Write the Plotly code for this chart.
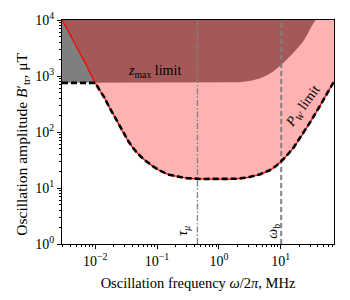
import plotly.graph_objects as go
import numpy as np

# P_W limit curve (MHz, uT)
freq_pw = [0.0029, 0.0035, 0.0045, 0.0055, 0.007, 0.0085, 0.01, 0.012, 0.0141, 0.0165,
           0.0193, 0.023, 0.028, 0.035, 0.0433, 0.055, 0.0668, 0.085, 0.11, 0.15,
           0.205, 0.3, 0.5, 0.76, 1.2, 1.9, 3.0, 4.56, 6.5, 8.5,
           10.5, 12.3, 16.0, 22.9, 30.0, 42.5, 55.0, 73.0]
b_pw = [10000, 6900, 4100, 2700, 1650, 1060, 755, 540, 410, 290,
        214, 150, 100, 66, 48, 36, 30, 24.5, 20.5, 17.5,
        16.2, 15.0, 14.5, 14.4, 14.4, 14.6, 15.5, 17.5, 20.5, 25,
        31, 37, 52, 93, 150, 285, 470, 800]

# z_max limit boundary
freq_z = [0.0029, 0.1, 1.0, 2.16, 3.3, 4.58, 6.0, 7.48, 10.2, 12.5, 15.7, 19.0, 22.9, 27.0, 31.3, 36.7]
b_z = [755, 755, 757, 770, 820, 905, 1030, 1190, 1567, 1950, 2535, 3200, 4090, 5500, 7590, 10000]

tau_mu = 0.45   # MHz
omega_b = 10.2  # MHz
b_top = 10000
b_bottom = 1

xtick_vals = [0.01, 0.1, 1, 10]
xtick_text = ["10<sup>−2</sup>", "10<sup>−1</sup>", "10<sup>0</sup>", "10<sup>1</sup>"]
ytick_vals = [1, 10, 100, 1000, 10000]
ytick_text = ["10<sup>0</sup>", "10<sup>1</sup>", "10<sup>2</sup>", "10<sup>3</sup>", "10<sup>4</sup>"]

FONT = "Liberation Serif"
fig = go.Figure()

# dark z_max region
fig.add_trace(go.Scatter(
    x=freq_z + [freq_z[-1], freq_z[0]],
    y=b_z + [b_top, b_top],
    fill="toself", fillcolor="rgba(0,0,0,0.5)", line=dict(width=0),
    mode="lines", hoverinfo="skip", showlegend=False))

# pink allowed region (above P_W curve)
fig.add_trace(go.Scatter(
    x=freq_pw + [freq_pw[-1], freq_pw[0]],
    y=b_pw + [b_top, b_top],
    fill="toself", fillcolor="rgba(255,0,0,0.3)", line=dict(width=0),
    mode="lines", hoverinfo="skip", showlegend=False))

# vertical reference lines
fig.add_trace(go.Scatter(x=[tau_mu, tau_mu], y=[b_bottom, b_top], mode="lines",
                         line=dict(color="#808080", width=1.3, dash="6px,2px,1.5px,2px"),
                         showlegend=False))
fig.add_trace(go.Scatter(x=[omega_b, omega_b], y=[b_bottom, b_top], mode="lines",
                         line=dict(color="#808080", width=2, dash="5px,3px"),
                         showlegend=False))

# red P_W curve
fig.add_trace(go.Scatter(x=freq_pw, y=b_pw, mode="lines", line_shape="spline",
                         line=dict(color="red", width=1.2, smoothing=0.6), showlegend=False))

# black dashed lower boundary = min(P_W, z_max floor)
floor = np.interp(np.log10(freq_pw), np.log10(freq_z), b_z)
lower = np.minimum(b_pw, floor)
fig.add_trace(go.Scatter(x=freq_pw, y=lower, mode="lines",
                         line=dict(color="black", width=2.6, dash="6px,3px"),
                         showlegend=False))

def px(xp, yp):
    return dict(x=(xp - 62.3) / 272.0, y=(244 - yp) / 224.0, xref="paper", yref="paper",
                xanchor="center", yanchor="middle")

fs = 14
tfs = 14.5
fig.add_annotation(text="<i>z</i><sub>max</sub> limit", showarrow=False,
                   font=dict(family=FONT, size=fs, color="black"), **px(155, 71))
fig.add_annotation(text="<i>P</i><sub><i>W</i></sub> limit", showarrow=False, textangle=-54,
                   font=dict(family=FONT, size=fs, color="black"), **px(304, 107))
fig.add_annotation(text="<i>τ</i><sub><i>μ</i></sub>", showarrow=False, textangle=-90,
                   font=dict(family=FONT, size=fs, color="black"), **px(183, 231))
fig.add_annotation(text="<i>ω</i><sub>b</sub>", showarrow=False, textangle=-90,
                   font=dict(family=FONT, size=fs, color="black"), **px(273, 231))
# y-axis title
fig.add_annotation(text="Oscillation amplitude <i>B</i>′<sub>tr</sub>, μT", showarrow=False,
                   textangle=-90, font=dict(family=FONT, size=15.5, color="black"), **px(22, 144))

axis_common = dict(showline=True, linecolor="black", linewidth=1, mirror=True,
                   ticks="outside", ticklen=4, tickwidth=1, tickcolor="black",
                   showgrid=False, zeroline=False, automargin=False,
                   tickfont=dict(family=FONT, size=fs, color="black"),
                   minor=dict(ticks="outside", ticklen=2, tickwidth=0.8, tickcolor="black",
                              dtick="D1", showgrid=False))

fig.update_xaxes(type="log", range=[np.log10(0.0029), np.log10(72.8)],
                 tickvals=xtick_vals, ticktext=xtick_text,
                 title=dict(text="Oscillation frequency <i>ω</i>/2<i>π</i>, MHz",
                            font=dict(family=FONT, size=tfs, color="black"), standoff=10),
                 **axis_common)
fig.update_yaxes(type="log", range=[0, 4],
                 tickvals=ytick_vals, ticktext=ytick_text,
                 **axis_common)

fig.update_layout(width=350, height=300, margin=dict(l=62, r=16, t=20, b=56),
                  plot_bgcolor="white", paper_bgcolor="white",
                  font=dict(family=FONT, size=fs, color="black"))

fig.write_html("out.html", config={"displayModeBar": False},
               post_script="document.body.style.margin='0';")
